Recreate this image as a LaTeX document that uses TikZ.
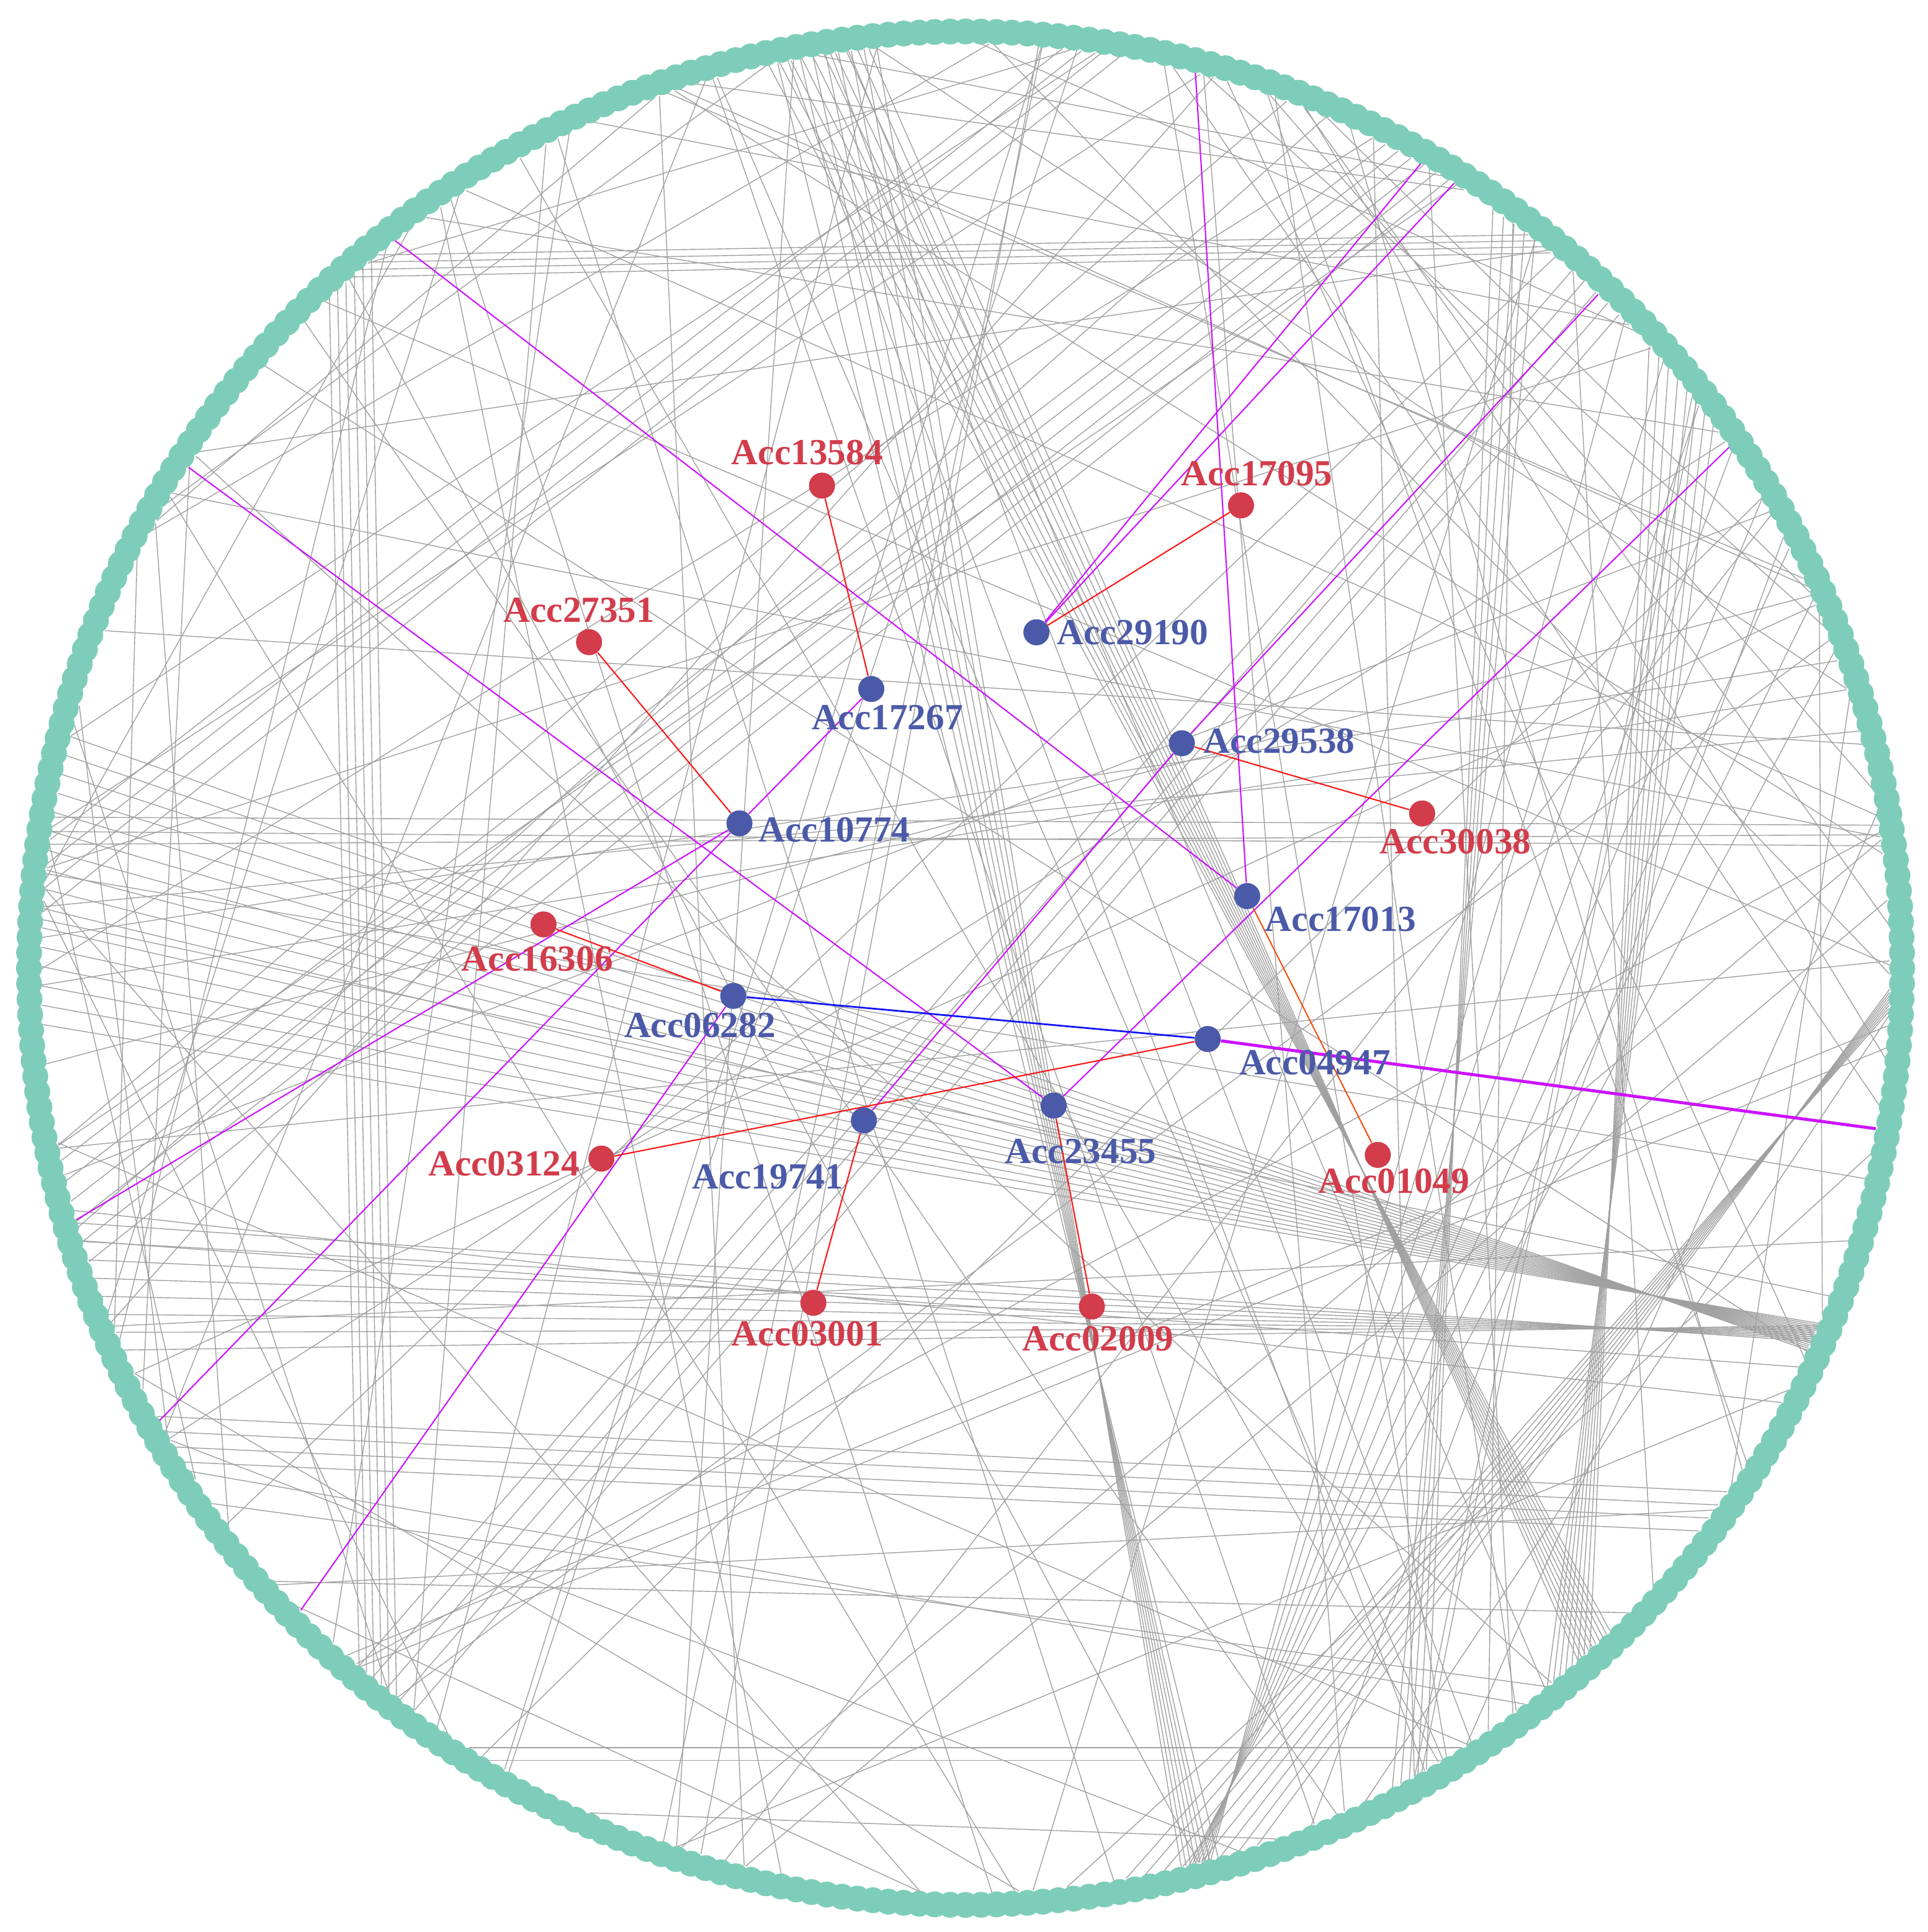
\documentclass[tikz,border=0pt]{standalone}
\usepackage{fontspec}
\setmainfont{Liberation Serif}
\definecolor{ringc}{RGB}{126,205,186}
\definecolor{nred}{RGB}{210,60,75}
\definecolor{nblue}{RGB}{75,90,168}
\definecolor{gline}{RGB}{160,160,160}
\definecolor{mag}{RGB}{204,17,255}
\definecolor{ered}{RGB}{255,20,20}
\definecolor{eorange}{RGB}{240,80,20}
\definecolor{eblue}{RGB}{20,20,255}
\begin{document}
\begin{tikzpicture}[x=0.02cm,y=-0.02cm,
  gl/.style={draw=gline,line width=0.4pt},
  redge/.style={draw=ered,line width=0.6pt},
  oedge/.style={draw=eorange,line width=0.6pt},
  bedge/.style={draw=eblue,line width=0.8pt},
  medge/.style={draw=mag,line width=0.6pt},
  mthick/.style={draw=mag,line width=1.4pt},
  rdot/.style={circle,fill=nred,inner sep=0pt,minimum size=0.42cm},
  bdot/.style={circle,fill=nblue,inner sep=0pt,minimum size=0.42cm},
  rlab/.style={text=nred,font=\bfseries\fontsize{17}{17}\selectfont,inner sep=0pt},
  blab/.style={text=nblue,font=\bfseries\fontsize{17}{17}\selectfont,inner sep=0pt}]
\useasboundingbox (0,0) rectangle (1564,1567.5);
\begin{scope}[shift={(783.5,785.5)},yscale=-1]
  % gray chords: bundles
  \foreach \i in {0,...,15} \draw[gl] ({165.5+1.2*\i}:750) -- ({335.6+0.12*\i}:750);
  \foreach \i in {0,...,7} \draw[gl] ({196+1.2*\i}:750) -- ({336.2+0.15*\i}:750);
  \foreach \a/\b in {171.5/7.6, 172.3/8.3, 170.6/8.9} \draw[gl] (\a:750) -- (\b:750);
  \foreach \i in {0,...,9} \draw[gl] ({96+0.7*\i}:750) -- ({311.5+0.3*\i}:750);
  \foreach \i in {0,...,6} \draw[gl] ({95.5+0.8*\i}:750) -- ({283.5+0.3*\i}:750);
  \foreach \i in {0,...,7} \draw[gl] ({36+0.9*\i}:750) -- ({309+0.5*\i}:750);
  \foreach \i in {0,...,4} \draw[gl] ({52+0.8*\i}:750) -- ({297.5+0.6*\i}:750);
  \foreach \i in {0,...,5} \draw[gl] ({130+0.7*\i}:750) -- ({232-0.6*\i}:750);
  \foreach \i in {0,...,5} \draw[gl] ({192+1.3*\i}:750) -- ({63-0.9*\i}:750);
  \foreach \i in {0,...,4} \draw[gl] ({229+1.1*\i}:750) -- ({49-1.0*\i}:750);
  \foreach \i in {0,...,7} \draw[gl] ({357.3+0.2*\i}:750) -- ({280+1.2*\i}:750);
  \foreach \i in {0,...,7} \draw[gl] ({284+0.2*\i}:750) -- ({20+3.5*\i}:750);
  \foreach \i in {0,...,3} \draw[gl] ({129.5+0.7*\i}:750) -- ({52.5-0.6*\i}:750);
  \foreach \i in {0,...,3} \draw[gl] ({209+1.1*\i}:750) -- ({325.5-1.0*\i}:750);
  \draw[gl] (237.5:750) -- (302.5:750);
  \draw[gl] (239:750) -- (301:750);
  \foreach \i in {0,...,3} \draw[gl] ({172+1.5*\i}:750) -- ({84-1.2*\i}:750);
  % gray chords: scattered
  \pgfmathsetseed{4242}
  \foreach \k in {1,...,120}{%
    \pgfmathsetmacro\ra{rnd*360}%
    \pgfmathsetmacro\rb{\ra+40+rnd*280}%
    \draw[gl] (\ra:750) -- (\rb:750);}
  % ring of nodes
  \foreach \i in {0,...,379} \fill[ringc] ({\i*0.947368}:760) circle[radius=10.5];
  % free ends of highlighted edges
  \coordinate (m1) at (60.5:750);
  \coordinate (m2) at (58.1:750);
  \coordinate (m3) at (75.6:750);
  \coordinate (m4) at (128.1:750);
  \coordinate (m5) at (147.2:750);
  \coordinate (m6) at (46.8:750);
  \coordinate (m7) at (34.3:750);
  \coordinate (m8) at (195.8:750);
  \coordinate (m9) at (209.3:750);
  \coordinate (m10) at (224:750);
  \coordinate (m11) at (350:750);
\end{scope}
% nodes
\node[rdot] (n13584) at (667,394) {};
\node[rdot] (n17095) at (1007,410) {};
\node[rdot] (n27351) at (478,521) {};
\node[bdot] (n29190) at (841,513) {};
\node[bdot] (n17267) at (707,559) {};
\node[bdot] (n29538) at (959,603) {};
\node[rdot] (n30038) at (1154,660) {};
\node[bdot] (n10774) at (600,668) {};
\node[bdot] (n17013) at (1012,727) {};
\node[rdot] (n16306) at (441,750) {};
\node[bdot] (n06282) at (595,808) {};
\node[bdot] (n04947) at (980,843) {};
\node[bdot] (n23455) at (855,897) {};
\node[bdot] (n19741) at (701,909) {};
\node[rdot] (n03124) at (488,940) {};
\node[rdot] (n01049) at (1118,937) {};
\node[rdot] (n03001) at (660,1057) {};
\node[rdot] (n02009) at (886,1060) {};
% highlighted edges
\draw[medge] (n29190) -- (m1);
\draw[medge] (n29190) -- (m2);
\draw[medge] (n17013) -- (m3);
\draw[medge] (n17013) -- (m4);
\draw[medge] (n23455) -- (m5);
\draw[medge] (n29538) -- (m6);
\draw[medge] (n19741) -- (n29538);
\draw[medge] (n23455) -- (m7);
\draw[medge] (n10774) -- (n17267);
\draw[medge] (n10774) -- (m8);
\draw[medge] (n10774) -- (m9);
\draw[medge] (n06282) -- (m10);
\draw[mthick] (n04947) -- (m11);
\draw[redge] (n13584) -- (n17267);
\draw[redge] (n17095) -- (n29190);
\draw[redge] (n27351) -- (n10774);
\draw[redge] (n29538) -- (n30038);
\draw[redge] (n16306) -- (n06282);
\draw[redge] (n03124) -- (n04947);
\draw[redge] (n19741) -- (n03001);
\draw[redge] (n23455) -- (n02009);
\draw[oedge] (n17013) -- (n01049);
\draw[bedge] (n06282) -- (n04947);
% dots on top of edges
\foreach \n in {n13584,n17095,n27351,n30038,n16306,n03124,n01049,n03001,n02009}
  \fill[nred] (\n) circle[radius=10.5];
\foreach \n in {n29190,n17267,n29538,n10774,n17013,n06282,n04947,n23455,n19741}
  \fill[nblue] (\n) circle[radius=10.5];
% labels
\node[rlab] (t13584) at (655,367) {Acc13584};
\node[rlab] (t17095) at (1020,384) {Acc17095};
\node[rlab] (t27351) at (470,495) {Acc27351};
\node[blab] (t29190) at (919,513) {Acc29190};
\node[blab] (t17267) at (720,582) {Acc17267};
\node[blab] (t29538) at (1038,601) {Acc29538};
\node[rlab] (t30038) at (1181,683) {Acc30038};
\node[blab] (t10774) at (677,673) {Acc10774};
\node[blab] (t17013) at (1088,746) {Acc17013};
\node[rlab] (t16306) at (436,778) {Acc16306};
\node[blab] (t06282) at (568,832) {Acc06282};
\node[blab] (t04947) at (1067,862) {Acc04947};
\node[blab] (t23455) at (877,934) {Acc23455};
\node[blab] (t19741) at (623,955) {Acc19741};
\node[rlab] (t03124) at (409,944) {Acc03124};
\node[rlab] (t01049) at (1131,958) {Acc01049};
\node[rlab] (t03001) at (655,1082) {Acc03001};
\node[rlab] (t02009) at (891,1086) {Acc02009};
\end{tikzpicture}
\end{document}
